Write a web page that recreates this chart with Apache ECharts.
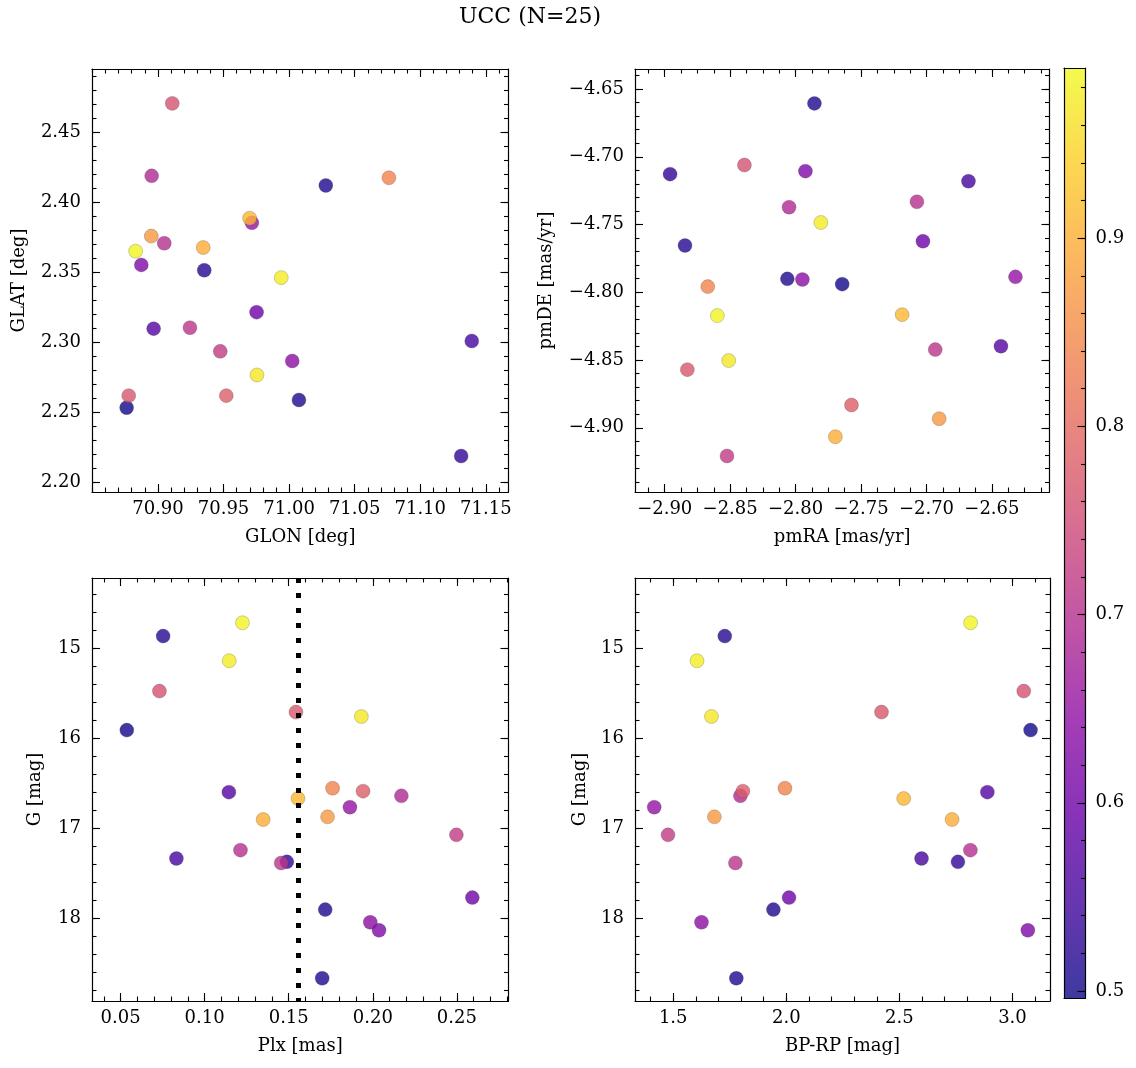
<!DOCTYPE html>
<html><head><meta charset="utf-8">
<script src="https://cdn.jsdelivr.net/npm/echarts@6/dist/echarts.min.js"></script>
<style>html,body{margin:0;padding:0;background:#fff}#c{width:1136px;height:1068px}</style>
</head><body><div id="c"></div>
<script>
// ---- data (drawn in ascending membership probability) ----
const prob = [0.50,0.51,0.51,0.52,0.53,0.55,0.57,0.60,0.62,0.64,0.65,0.69,0.70,0.71,0.72,0.76,0.77,0.78,0.84,0.87,0.90,0.91,0.97,0.975,0.985];
const glon = [70.8761,71.0280,71.0075,70.9353,71.1312,71.1393,70.8967,70.9752,70.8873,71.0024,70.9716,70.8952,70.9048,70.9244,70.9475,70.9109,70.8777,70.9521,71.0761,70.8949,70.9345,70.9699,70.9755,70.9940,70.8830];
const glat = [2.2532,2.4121,2.2587,2.3515,2.2186,2.3009,2.3097,2.3215,2.3553,2.2866,2.3854,2.4190,2.3708,2.3104,2.2935,2.4708,2.2618,2.2618,2.4176,2.3759,2.3677,2.3887,2.2766,2.3462,2.3651];
const pmra = [-2.7644,-2.7856,-2.8063,-2.8845,-2.8959,-2.6679,-2.6431,-2.7027,-2.7925,-2.7948,-2.6320,-2.8050,-2.7073,-2.6933,-2.8524,-2.8391,-2.8827,-2.7573,-2.8671,-2.6903,-2.7696,-2.7186,-2.8511,-2.7807,-2.8598];
const pmde = [-4.7940,-4.6606,-4.7901,-4.7655,-4.7128,-4.7180,-4.8398,-4.7623,-4.7106,-4.7906,-4.7886,-4.7372,-4.7332,-4.8423,-4.9208,-4.7061,-4.8571,-4.8832,-4.7958,-4.8933,-4.9066,-4.8165,-4.8504,-4.7485,-4.8172];
const plx = [0.0537,0.1717,0.1699,0.0753,0.1489,0.0832,0.1144,0.2592,0.2037,0.1985,0.1864,0.2170,0.1213,0.1455,0.2497,0.0731,0.1543,0.1942,0.1761,0.1731,0.1348,0.1555,0.1932,0.1146,0.1225];
const gmag = [15.911,17.904,18.667,14.867,17.374,17.337,16.600,17.771,18.134,18.045,16.767,16.641,17.244,17.386,17.074,15.478,15.711,16.589,16.556,16.874,16.904,16.671,15.760,15.141,14.719];
const bprp = [3.080,1.943,1.779,1.728,2.759,2.598,2.889,2.012,3.068,1.625,1.416,1.797,2.814,1.775,1.477,3.050,2.421,1.808,1.994,1.682,2.733,2.519,1.669,1.605,2.815];
const plxRef = 0.1555;

// ---- tick labels ----
const glonTicks = [70.90,70.95,71.00,71.05,71.10,71.15];
const glatTicks = [2.20,2.25,2.30,2.35,2.40,2.45];
const pmraTicks = [-2.90,-2.85,-2.80,-2.75,-2.70,-2.65];
const pmdeTicks = [-4.90,-4.85,-4.80,-4.75,-4.70,-4.65];
const plxTicks = [0.05,0.10,0.15,0.20,0.25];
const gTicks = [15,16,17,18];
const bprpTicks = [1.5,2.0,2.5,3.0];
const cbarTicks = [0.5,0.6,0.7,0.8,0.9];
const cbarRange = [0.4963, 0.9904];

const plasma = ['#0d0887','#41049d','#6a00a8','#8f0da4','#b12a90','#cc4778','#e16462','#f2844b','#fca636','#fcce25','#f0f921'];

const FONT = 'DejaVu Serif';
const FS = 18;

function minorVals(majors, step, lo, hi){
  const out=[]; const s=majors[0];
  for(let k=-200;k<=600;k++){ const v=+(s+k*step).toFixed(6); if(v>lo+1e-9 && v<hi-1e-9) out.push(v); }
  return out;
}
function fmt(d){ return v => Number(v).toFixed(d).replace('-', '\u2212'); }

const grids=[], xAxes=[], yAxes=[];
function addAxes(list, gi, dim, o){
  const primary = dim==='x' ? 'bottom' : 'left';
  const opposite = dim==='x' ? 'top' : 'right';
  const minors = minorVals(o.ticks, o.minor, o.min, o.max);
  const base = (pos, vals, len, labels, line) => ({
    type:'value', gridIndex:gi, position:pos, min:o.min, max:o.max, inverse:!!o.inverse, z:5,
    axisLine:{show:line, onZero:false, lineStyle:{color:'#000', width:1.2}},
    axisTick:{show:true, inside:true, length:len, customValues:vals, lineStyle:{color:'#000', width:1.1}},
    axisLabel: labels ? {show:true, customValues:o.ticks, formatter:fmt(o.dec), margin:o.margin, fontFamily:FONT, fontSize:FS, color:'#000'} : {show:false},
    splitLine:{show:false},
    name: labels ? o.name : '', nameLocation:'middle', nameGap:o.gap,
    nameTextStyle:{fontFamily:FONT, fontSize:FS, color:'#000'}
  });
  const idx = list.length;
  list.push(base(primary, o.ticks, 8, true, true));
  list.push(base(primary, minors, 4.5, false, false));
  list.push(base(opposite, o.ticks, 8, false, true));
  list.push(base(opposite, minors, 4.5, false, false));
  return idx;
}

const panels = [
  {grid:{left:92, top:69, width:416.5, height:423},
   x:{min:70.8497, max:71.1673, ticks:glonTicks, minor:0.01, dec:2, name:'GLON [deg]', gap:36, margin:8},
   y:{min:2.1929, max:2.4954, ticks:glatTicks, minor:0.01, dec:2, name:'GLAT [deg]', gap:64, margin:11},
   xs:glon, ys:glat},
  {grid:{left:635, top:69, width:414.5, height:423},
   x:{min:-2.9227, max:-2.6060, ticks:pmraTicks, minor:0.0125, dec:2, name:'pmRA [mas/yr]', gap:36, margin:8},
   y:{min:-4.9474, max:-4.6352, ticks:pmdeTicks, minor:0.01, dec:2, name:'pmDE [mas/yr]', gap:80, margin:11},
   xs:pmra, ys:pmde},
  {grid:{left:92, top:578, width:416.5, height:423},
   x:{min:0.0330, max:0.2807, ticks:plxTicks, minor:0.01, dec:2, name:'Plx [mas]', gap:36, margin:8},
   y:{min:14.222, max:18.919, inverse:true, ticks:gTicks, minor:0.2, dec:0, name:'G [mag]', gap:48, margin:11},
   xs:plx, ys:gmag},
  {grid:{left:635, top:578, width:415, height:423},
   x:{min:1.331, max:3.166, ticks:bprpTicks, minor:0.1, dec:1, name:'BP-RP [mag]', gap:36, margin:8},
   y:{min:14.222, max:18.919, inverse:true, ticks:gTicks, minor:0.2, dec:0, name:'G [mag]', gap:46, margin:11},
   xs:bprp, ys:gmag}
];

const series=[];
panels.forEach((p,i)=>{
  grids.push(p.grid);
  const xi = addAxes(xAxes, i, 'x', p.x);
  const yi = addAxes(yAxes, i, 'y', p.y);
  const s = {
    type:'scatter', xAxisIndex:xi, yAxisIndex:yi, symbolSize:14, z:2,
    itemStyle:{opacity:0.8, borderColor:'rgba(60,60,60,0.6)', borderWidth:0.5},
    data: p.xs.map((v,k)=>[v, p.ys[k], prob[k]])
  };
  if(i===2){
    s.markLine = {silent:true, precision:6, symbol:['none','none'], label:{show:false}, z:4,
      lineStyle:{color:'#000', width:5, type:[5,10], opacity:1},
      emphasis:{disabled:true},
      data:[{xAxis:plxRef}]};
  }
  series.push(s);
});

// ---- colorbar ----
const cbGrid = grids.length;
grids.push({left:1064, top:68, width:21.5, height:930});
const cbX = xAxes.length;
xAxes.push({type:'category', gridIndex:cbGrid, position:'bottom', data:[''], z:5,
  axisLine:{show:true, lineStyle:{color:'#000', width:1.2}}, axisTick:{show:false}, axisLabel:{show:false}, splitLine:{show:false}});
xAxes.push({type:'category', gridIndex:cbGrid, position:'top', data:[''], z:5,
  axisLine:{show:true, lineStyle:{color:'#000', width:1.2}}, axisTick:{show:false}, axisLabel:{show:false}, splitLine:{show:false}});
const cbY = yAxes.length;
const cbMinor = minorVals(cbarTicks, 0.02, cbarRange[0], cbarRange[1]);
yAxes.push({type:'value', gridIndex:cbGrid, position:'right', min:cbarRange[0], max:cbarRange[1], z:5,
  axisLine:{show:true, onZero:false, lineStyle:{color:'#000', width:1.2}},
  axisTick:{show:true, inside:true, length:8, customValues:cbarTicks, lineStyle:{color:'#000', width:1.1}},
  axisLabel:{show:true, customValues:cbarTicks, formatter:fmt(1), margin:10, fontFamily:FONT, fontSize:FS, color:'#000'},
  splitLine:{show:false}});
yAxes.push({type:'value', gridIndex:cbGrid, position:'right', min:cbarRange[0], max:cbarRange[1], z:5,
  axisLine:{show:false}, axisTick:{show:true, inside:true, length:4.5, customValues:cbMinor, lineStyle:{color:'#000', width:1.1}},
  axisLabel:{show:false}, splitLine:{show:false}});
yAxes.push({type:'value', gridIndex:cbGrid, position:'left', min:cbarRange[0], max:cbarRange[1], z:5,
  axisLine:{show:true, onZero:false, lineStyle:{color:'#000', width:1.2}}, axisTick:{show:false}, axisLabel:{show:false}, splitLine:{show:false}});

const grad = new echarts.graphic.LinearGradient(0,1,0,0, plasma.map((c,k)=>({offset:k/(plasma.length-1), color:c})));
series.push({type:'bar', xAxisIndex:cbX, yAxisIndex:cbY, stack:'cb', barWidth:'100%', silent:true,
  itemStyle:{color:'rgba(0,0,0,0)'}, data:[cbarRange[0]]});
series.push({type:'bar', xAxisIndex:cbX, yAxisIndex:cbY, stack:'cb', barWidth:'100%', silent:true,
  itemStyle:{color:grad, opacity:0.8}, data:[+(cbarRange[1]-cbarRange[0]).toFixed(6)]});

const option = {
  backgroundColor:'#fff',
  animation:false,
  title:{text:'UCC (N=25)', left:459, top:6, padding:0,
    textStyle:{fontFamily:FONT, fontSize:22, fontWeight:'normal', color:'#000'}},
  grid:grids, xAxis:xAxes, yAxis:yAxes,
  visualMap:{type:'continuous', show:false, min:cbarRange[0], max:cbarRange[1], dimension:2,
    seriesIndex:[0,1,2,3], inRange:{color:plasma}},
  series:series
};
const chart = echarts.init(document.getElementById('c'), null, {renderer:'canvas'});
chart.setOption(option);
</script></body></html>
